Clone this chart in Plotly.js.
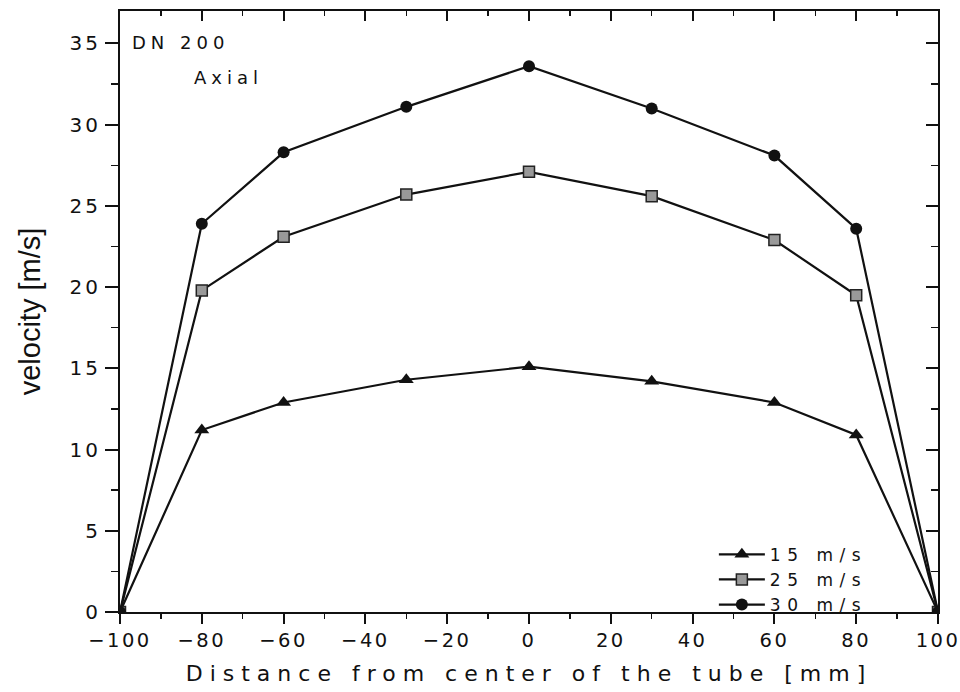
<!DOCTYPE html>
<html>
<head>
<meta charset="utf-8">
<script src="https://cdn.plot.ly/plotly-3.0.1.min.js"></script>
<style>
  html, body { margin: 0; padding: 0; background: #fff; }
  #chart { width: 960px; height: 692px; }
  .xtick text { letter-spacing: 2.5px; }
  .ytick text { letter-spacing: 3px; }
  .g-xtitle text { letter-spacing: 7px; }
  .annotation-text { letter-spacing: 5px; }
  .legendtext { letter-spacing: 6.5px; }
</style>
</head>
<body>
<div id="chart"></div>
<script>
// Distance from tube center [mm]
const distance = [-100, -80, -60, -30, 0, 30, 60, 80, 100];
// Velocity [m/s] for each mean flow speed
const v15 = [0, 11.2, 12.9, 14.3, 15.1, 14.2, 12.9, 10.9, 0];
const v25 = [0, 19.8, 23.1, 25.7, 27.1, 25.6, 22.9, 19.5, 0];
const v30 = [0, 23.9, 28.3, 31.1, 33.6, 31.0, 28.1, 23.6, 0];
const seriesNames = ['15 m/s', '25 m/s', '30 m/s'];
const xTicks = [-100, -80, -60, -40, -20, 0, 20, 40, 60, 80, 100];
const yTicks = [0, 5, 10, 15, 20, 25, 30, 35];

const FONT = 'DejaVu Sans, Liberation Sans, sans-serif';

const traces = [
  {
    x: distance, y: v15, name: seriesNames[0], mode: 'lines+markers',
    line: {color: '#111', width: 2.2},
    marker: {symbol: 'triangle-up', size: 13, color: '#111'}
  },
  {
    x: distance, y: v25, name: seriesNames[1], mode: 'lines+markers',
    line: {color: '#111', width: 2.2},
    marker: {symbol: 'square', size: 11, color: '#999', line: {color: '#222', width: 1.5}}
  },
  {
    x: distance, y: v30, name: seriesNames[2], mode: 'lines+markers',
    line: {color: '#111', width: 2.2},
    marker: {symbol: 'circle', size: 12, color: '#111'}
  },
  // frame axes (top / right) carrier: draws nothing
  {
    x: distance, y: v30, mode: 'none', xaxis: 'x2', yaxis: 'y2',
    showlegend: false, hoverinfo: 'skip'
  }
];

const axisCommon = {
  showgrid: false, zeroline: false, showline: true,
  linecolor: '#111', linewidth: 2, tickcolor: '#111', tickwidth: 2
};

const layout = {
  width: 960, height: 692,
  margin: {l: 120, r: 22, t: 11, b: 80},
  paper_bgcolor: '#fff', plot_bgcolor: '#fff',
  showlegend: true,
  font: {family: FONT, color: '#111'},
  xaxis: Object.assign({}, axisCommon, {
    range: [-100, 100],
    tickvals: xTicks,
    ticktext: xTicks.map(v => v < 0 ? '\u2212' + Math.abs(v) : String(v)),
    ticks: 'outside', ticklen: 10,
    ticklabeloverflow: 'allow',
    minor: {dtick: 10, ticks: 'outside', ticklen: 5, tickwidth: 1.5, tickcolor: '#111'},
    tickfont: {family: FONT, size: 19.5, color: '#111'},
    title: {text: 'Distance from center of the tube [mm]', font: {family: FONT, size: 22, color: '#111'}, standoff: 14}
  }),
  yaxis: Object.assign({}, axisCommon, {
    range: [0, 37],
    tickvals: yTicks,
    ticks: 'outside', ticklen: 13,
    minor: {dtick: 2.5, ticks: 'outside', ticklen: 7, tickwidth: 1.5, tickcolor: '#111'},
    tickfont: {family: FONT, size: 20, color: '#111'},
    title: {text: 'velocity [m/s]', font: {family: 'Liberation Sans Narrow, Liberation Sans, sans-serif', size: 29, color: '#111'}, standoff: 20}
  }),
  xaxis2: Object.assign({}, axisCommon, {
    overlaying: 'x', side: 'top', anchor: 'y2',
    range: [-100, 100], tickvals: xTicks, showticklabels: false,
    ticks: 'inside', ticklen: 10,
    minor: {dtick: 10, ticks: 'inside', ticklen: 5, tickwidth: 1.5, tickcolor: '#111'}
  }),
  yaxis2: Object.assign({}, axisCommon, {
    overlaying: 'y', side: 'right', anchor: 'x2',
    range: [0, 37], tickvals: yTicks, showticklabels: false,
    ticks: 'inside', ticklen: 12,
    minor: {dtick: 2.5, ticks: 'inside', ticklen: 7, tickwidth: 1.5, tickcolor: '#111'}
  }),
  legend: {
    x: 0.726, y: -0.018, xanchor: 'left', yanchor: 'bottom',
    bgcolor: 'rgba(0,0,0,0)', borderwidth: 0,
    font: {family: FONT, size: 17, color: '#111'},
    itemwidth: 46, tracegroupgap: 0
  },
  annotations: [
    {text: 'DN 200', xref: 'paper', yref: 'paper', x: 0.012, y: 0.947, xanchor: 'left', yanchor: 'middle',
     showarrow: false, font: {family: FONT, size: 18, color: '#111'}},
    {text: 'Axial', xref: 'paper', yref: 'paper', x: 0.088, y: 0.89, xanchor: 'left', yanchor: 'middle',
     showarrow: false, font: {family: FONT, size: 18, color: '#111'}}
  ]
};

Plotly.newPlot('chart', traces, layout, {displayModeBar: false, staticPlot: true});
</script>
</body>
</html>
